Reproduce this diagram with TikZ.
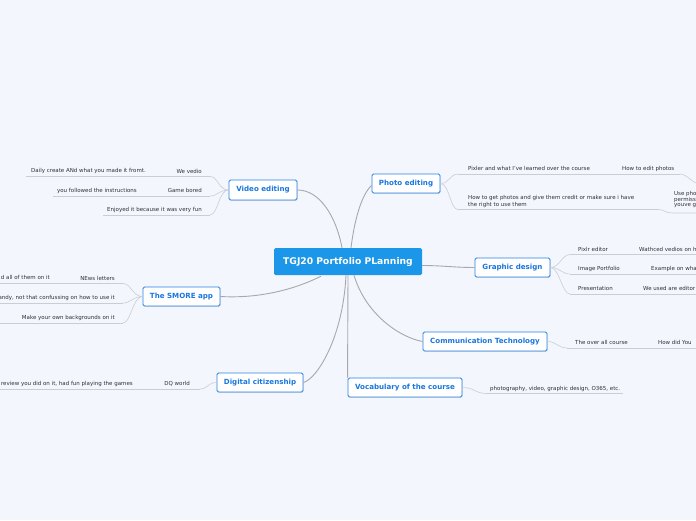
\documentclass[tikz,border=0pt]{standalone}
\usepackage{fontspec}
\setmainfont{DejaVu Sans}
\usetikzlibrary{calc,shadows}
\definecolor{bgc}{RGB}{243,246,253}
\definecolor{cfill}{RGB}{27,150,232}
\definecolor{cbord}{RGB}{40,130,228}
\definecolor{ctext}{RGB}{25,118,222}
\definecolor{cleaf}{RGB}{48,48,54}
\definecolor{cconn}{RGB}{168,168,172}
\definecolor{cline}{RGB}{203,205,212}
\begin{document}
\begin{tikzpicture}[x=1pt,y=-1pt,
  main/.style={fill=cfill, text=white, rounded corners=1.5pt, font=\fontsize{9.2}{11}\selectfont\bfseries, minimum width=148pt, minimum height=27pt, inner sep=0pt},
  branch/.style={draw=cbord, line width=0.9pt, fill=white, rounded corners=1.5pt, text=ctext, font=\fontsize{7.1}{8}\selectfont\bfseries, minimum height=19pt, inner sep=0pt, drop shadow={opacity=0.25, shadow xshift=0.6pt, shadow yshift=-0.8pt}},
  leaf/.style={text=cleaf, font=\fontsize{5.5}{6.6}\selectfont, inner sep=0pt},
  conn/.style={draw=cconn, line width=0.9pt},
  uline/.style={draw=cline, line width=0.6pt}]
\fill[bgc] (0,0) rectangle (696,520);
\useasboundingbox (0,0) rectangle (696,520);
\clip (0,0) rectangle (696,520);

% main nodes
\node[main] (root) at (348,261.5) {TGJ20 Portfolio PLanning};
\node[branch, minimum width=68pt, minimum height=20pt] (video) at (263,190) {Video editing};
\node[branch, minimum width=68pt] (photo) at (406,183.5) {Photo editing};
\node[branch, minimum width=75pt] (graphic) at (512.5,267.5) {Graphic design};
\node[branch, minimum width=124pt] (comm) at (485,341.5) {Communication Technology};
\node[branch, minimum width=114pt] (vocab) at (405,387.5) {Vocabulary of the course};
\node[branch, minimum width=86pt] (digital) at (260,382.5) {Digital citizenship};
\node[branch, minimum width=77pt] (smore) at (181.5,296.5) {The SMORE app};

% main connectors
\draw[conn] ($(root.north)+(3,0)$) .. controls +(5,-40) and +(-6,5) .. ($(photo.west)+(0,2)$);
\draw[conn] ($(root.north)+(-6,0)$) .. controls +(-6,-32) and +(22,0) .. (video.east);
\draw[conn] ($(root.east)+(0,4)$) .. controls +(20,0) and +(-20,0) .. (graphic.west);
\draw[conn] ($(root.south)+(6,0)$) .. controls +(12,40) and +(-22,-4) .. (comm.west);
\draw[conn] (root.south) -- (vocab.north west);
\draw[conn] ($(root.south)+(-2,0)$) .. controls +(-3,62) and +(14,-4) .. (digital.east);
\draw[conn] ($(root.south)+(-27,1)$) .. controls +(-30,15) and +(35,2) .. (smore.east);

% ---- Video editing
\coordinate (v1a) at (26,176.5);  \coordinate (v1b) at (210,176.5);
\coordinate (v2a) at (53,196);    \coordinate (v2b) at (210,196);
\coordinate (v3a) at (103,215);   \coordinate (v3b) at (210,215);
\node[leaf, anchor=base east] (v1t) at (202,173) {We vedio};
\node[leaf, anchor=base east] (v1g) at (146,172) {Daily create ANd what you made it fromt.};
\node[leaf, anchor=base east] (v2t) at (202,192) {Game bored};
\node[leaf, anchor=base east] (v2g) at (137,192) {you followed the instructions};
\node[leaf, anchor=base east] (v3t) at (202,211) {Enjoyed it because it was very fun};
\draw[uline] (v1a) -- (v1b);
\draw[uline] (v2a) -- (v2b);
\draw[uline] (v3a) -- (v3b);
\draw[uline] (video.west) .. controls +(-10,0) and +(8,0) .. (v1b);
\draw[uline] (video.west) .. controls +(-10,0) and +(8,0) .. (v2b);
\draw[uline] (video.west) .. controls +(-10,0) and +(8,0) .. (v3b);

% ---- SMORE app
\coordinate (s1a) at (0,283.5);  \coordinate (s1b) at (123,283.5);
\coordinate (s2a) at (0,303);    \coordinate (s2b) at (123,303);
\coordinate (s3a) at (0,323);    \coordinate (s3b) at (123,323);
\node[leaf, anchor=base east] (s1t) at (115,280) {NEws letters};
\node[leaf, anchor=base east] (s1g) at (50,279) {d all of them on it};
\node[leaf, anchor=base east] (s2t) at (115,299) {andy, not that confussing on how to use it};
\node[leaf, anchor=base east] (s3t) at (115,319) {Make your own backgrounds on it};
\draw[uline] (s1a) -- (s1b);
\draw[uline] (s2a) -- (s2b);
\draw[uline] (s3a) -- (s3b);
\draw[uline] (smore.west) .. controls +(-10,0) and +(8,0) .. (s1b);
\draw[uline] (smore.west) .. controls +(-10,0) and +(8,0) .. (s2b);
\draw[uline] (smore.west) .. controls +(-10,0) and +(8,0) .. (s3b);

% ---- Digital citizenship
\coordinate (d1a) at (0,389);  \coordinate (d1b) at (200,389);
\node[leaf, anchor=base east] (d1t) at (190,385) {DQ world};
\node[leaf, anchor=base east] (d1g) at (133,385) {review you did on it, had fun playing the games};
\draw[uline] (d1a) -- (d1b);
\draw[uline] (digital.west) .. controls +(-9,0) and +(8,0) .. (d1b);

% ---- Photo editing
\coordinate (p1a) at (458,174);  \coordinate (p1b) at (680,174);
\coordinate (p1c) at (700,184);
\coordinate (p2a) at (458,209.5); \coordinate (p2b) at (658,209.5);
\coordinate (p2c) at (700,213);
\node[leaf, anchor=base west] (p1t) at (468,170) {Pixler and what I've learned over the course};
\node[leaf, anchor=base west] (p1g) at (622,170) {How to edit photos};
\node[leaf, anchor=base west] (p2t) at (468,199) {How to get photos and give them credit or make sure i have};
\node[leaf, anchor=base west] (p2u) at (468,206) {the right to use them};
\node[leaf, anchor=base west] (p2g1) at (674,195) {Use pho};
\node[leaf, anchor=base west] (p2g2) at (674,201) {permiss};
\node[leaf, anchor=base west] (p2g3) at (674,206.5) {youve g};
\draw[uline] (p1a) -- (p1b);
\draw[uline] (p1b) .. controls +(7,0) and +(-7,0) .. (p1c);
\draw[uline] (p2a) -- (p2b);
\draw[uline] (p2b) .. controls +(6,0) and +(-6,0) .. ($(p2b)+(14,3.5)$) -- (p2c);
\draw[uline] (photo.east) .. controls +(9,0) and +(-8,0) .. (p1a);
\draw[uline] (photo.east) .. controls +(9,0) and +(-8,0) .. (p2a);

% ---- Graphic design
\coordinate (g1a) at (570,254.5); \coordinate (g1b) at (700,254.5);
\coordinate (g2a) at (570,274);   \coordinate (g2b) at (700,274);
\coordinate (g3a) at (570,294);   \coordinate (g3b) at (700,294);
\node[leaf, anchor=base west] (g1t) at (578,251) {Pixlr editor};
\node[leaf, anchor=base west] (g1g) at (639,251) {Wathced vedios on h};
\node[leaf, anchor=base west] (g2t) at (578,270) {Image Portfolio};
\node[leaf, anchor=base west] (g2g) at (651,270) {Example on wha};
\node[leaf, anchor=base west] (g3t) at (578,290) {Presentation};
\node[leaf, anchor=base west] (g3g) at (643,290) {We used are editor};
\draw[uline] (g1a) -- (g1b);
\draw[uline] (g2a) -- (g2b);
\draw[uline] (g3a) -- (g3b);
\draw[uline] (graphic.east) .. controls +(9,0) and +(-8,0) .. (g1a);
\draw[uline] (graphic.east) .. controls +(9,0) and +(-8,0) .. (g2a);
\draw[uline] (graphic.east) .. controls +(9,0) and +(-8,0) .. (g3a);

% ---- Communication Technology
\coordinate (c1a) at (567,348); \coordinate (c1b) at (700,348);
\node[leaf, anchor=base west] (c1t) at (575,344) {The over all course};
\node[leaf, anchor=base west] (c1g) at (658,344) {How did You};
\draw[uline] (c1a) -- (c1b);
\draw[uline] (comm.east) .. controls +(9,0) and +(-9,0) .. (c1a);

% ---- Vocabulary
\coordinate (o1a) at (487,393.5); \coordinate (o1b) at (623,393.5);
\node[leaf, anchor=base west] (o1t) at (490,390) {photography, video, graphic design, O365, etc.};
\draw[uline] (o1a) -- (o1b);
\draw[uline] (vocab.east) .. controls +(12,0) and +(-12,0) .. (o1a);
\end{tikzpicture}
\end{document}
